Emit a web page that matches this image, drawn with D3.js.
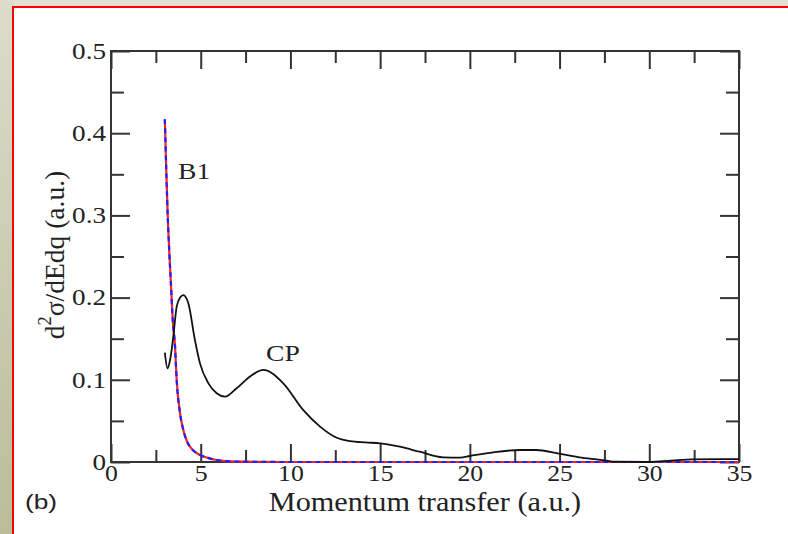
<!DOCTYPE html>
<html><head><meta charset="utf-8">
<script src="https://cdn.jsdelivr.net/npm/d3@7"></script>
<style>
html,body{margin:0;padding:0;background:#fff;}
svg{display:block;}
</style></head>
<body>
<svg id="chart" width="788" height="534"></svg>
<script>
// ---------------- data ----------------
const xTicks = [0, 5, 10, 15, 20, 25, 30, 35];
const yTicks = [0, 0.1, 0.2, 0.3, 0.4, 0.5];
const yTickLabels = ["0", "0.1", "0.2", "0.3", "0.4", "0.5"];

const cpQ = [3.0, 3.15, 3.3, 3.47, 3.66, 3.85, 4.03, 4.31, 4.68, 4.96, 5.43, 5.89, 6.35, 7.0, 7.75, 8.49, 9.6, 10.72, 11.65, 12.58, 13.32, 14.2, 15.0, 16.1, 17.2, 18.5, 19.45, 20.0, 21.3, 22.8, 23.7, 24.9, 26.1, 27.4, 28.0, 30.0, 31.2, 32.4, 34.0, 35.0];
const cpV = [0.133, 0.114, 0.125, 0.152, 0.189, 0.200, 0.203, 0.193, 0.148, 0.120, 0.0957, 0.0836, 0.0795, 0.0897, 0.104, 0.112, 0.0957, 0.063, 0.043, 0.0295, 0.0255, 0.0238, 0.0227, 0.0186, 0.0125, 0.0057, 0.0053, 0.0073, 0.0118, 0.0146, 0.0146, 0.0106, 0.0057, 0.0024, 0.0004, 0.0, 0.0016, 0.0033, 0.0036, 0.0036];

const b1Q = [3.0, 3.08, 3.16, 3.25, 3.33, 3.44, 3.57, 3.66, 3.85, 4.03, 4.2, 4.4, 4.7, 4.96, 5.4, 5.89, 6.5, 7.36, 10, 15, 20, 25, 30, 35];
const b1V = [0.417, 0.355, 0.30, 0.255, 0.221, 0.173, 0.140, 0.100, 0.059, 0.039, 0.027, 0.0186, 0.012, 0.0085, 0.005, 0.0024, 0.001, 0.0004, 0, 0, 0, 0, 0, 0];

const cpLabel = "CP", b1Label = "B1";
const xTitle = "Momentum transfer (a.u.)";
const panelLabel = "(b)";

// ---------------- layout ----------------
const svg = d3.select("#chart");
const W = 788, H = 534;
const L = 111, R = 739, T = 51, B = 462;
const serif = "'Liberation Serif', 'Times New Roman', serif";
const ink = "#222";

// background outside frame
const defs = svg.append("defs");
const g1 = defs.append("linearGradient").attr("id", "bgL").attr("x1", 0).attr("y1", 0).attr("x2", 0).attr("y2", 1);
g1.append("stop").attr("offset", "0%").attr("stop-color", "#dcdccb");
g1.append("stop").attr("offset", "100%").attr("stop-color", "#b9bd98");
svg.append("rect").attr("x", 0).attr("y", 0).attr("width", W).attr("height", H).attr("fill", "#e1e1d3");
svg.append("rect").attr("x", 0).attr("y", 0).attr("width", 14).attr("height", H).attr("fill", "url(#bgL)");
svg.append("rect").attr("x", 13).attr("y", 7).attr("width", W + 10).attr("height", H + 10)
  .attr("fill", "#fff").attr("stroke", "#ff0000").attr("stroke-width", 2);

const x = d3.scaleLinear().domain([0, 35]).range([L, R]);
const y = d3.scaleLinear().domain([0, 0.5]).range([B, T]);

function stretch(sel, f) {
  sel.each(function () {
    const n = this.getComputedTextLength();
    d3.select(this).attr("textLength", n * f).attr("lengthAdjust", "spacingAndGlyphs");
  });
}

const xMinor = d3.range(2.5, 35, 5);
const yMinor = d3.range(0.05, 0.5, 0.1);

function styleAxis(g) {
  g.select(".domain").remove();
  g.selectAll(".tick line").attr("stroke", "#333").attr("stroke-width", 2);
}

// bottom major with labels
const gxb = svg.append("g").attr("transform", `translate(0,${B})`)
  .call(d3.axisBottom(x).tickValues(xTicks).tickSize(-18).tickPadding(5).tickFormat(d3.format("d")));
styleAxis(gxb);
gxb.selectAll(".tick text").attr("font-family", serif).attr("font-size", 23).attr("fill", ink)
  .attr("dy", "0.62em");
stretch(gxb.selectAll(".tick text"), 1.12);
// bottom minor
styleAxis(svg.append("g").attr("transform", `translate(0,${B})`)
  .call(d3.axisBottom(x).tickValues(xMinor).tickSize(-12).tickFormat("")));
// top
styleAxis(svg.append("g").attr("transform", `translate(0,${T})`)
  .call(d3.axisTop(x).tickValues(xTicks).tickSize(-18).tickFormat("")));
styleAxis(svg.append("g").attr("transform", `translate(0,${T})`)
  .call(d3.axisTop(x).tickValues(xMinor).tickSize(-12).tickFormat("")));
// left
const gyl = svg.append("g").attr("transform", `translate(${L},0)`)
  .call(d3.axisLeft(y).tickValues(yTicks).tickSize(-19).tickPadding(5).tickFormat((d, i) => yTickLabels[i]));
styleAxis(gyl);
gyl.selectAll(".tick text").attr("font-family", serif).attr("font-size", 23).attr("fill", ink);
stretch(gyl.selectAll(".tick text"), 1.18);
styleAxis(svg.append("g").attr("transform", `translate(${L},0)`)
  .call(d3.axisLeft(y).tickValues(yMinor).tickSize(-13).tickFormat("")));
// right
styleAxis(svg.append("g").attr("transform", `translate(${R},0)`)
  .call(d3.axisRight(y).tickValues(yTicks).tickSize(-19).tickFormat("")));
styleAxis(svg.append("g").attr("transform", `translate(${R},0)`)
  .call(d3.axisRight(y).tickValues(yMinor).tickSize(-13).tickFormat("")));

// frame
svg.append("rect").attr("x", L).attr("y", T).attr("width", R - L).attr("height", B - T)
  .attr("fill", "none").attr("stroke", "#333").attr("stroke-width", 2);

// curves
const line = d3.line().x(d => x(d[0])).y(d => y(d[1])).curve(d3.curveMonotoneX);
const b1 = b1Q.map((q, i) => [q, b1V[i]]);
const cp = cpQ.map((q, i) => [q, cpV[i]]);
svg.append("path").datum(b1).attr("d", line).attr("fill", "none").attr("stroke", "#ff2020").attr("stroke-width", 2.2);
svg.append("path").datum(b1).attr("d", line).attr("fill", "none").attr("stroke", "#2020ff").attr("stroke-width", 2.2)
  .attr("stroke-dasharray", "5,4");
svg.append("path").datum(cp).attr("d", line).attr("fill", "none").attr("stroke", "#111").attr("stroke-width", 1.8);

// curve labels
const tB1 = svg.append("text").attr("x", 178).attr("y", 179).attr("font-family", serif).attr("font-size", 24)
  .attr("fill", ink).text(b1Label);
stretch(tB1, 1.15);
const tCP = svg.append("text").attr("x", 266).attr("y", 361).attr("font-family", serif).attr("font-size", 23)
  .attr("fill", ink).text(cpLabel);
stretch(tCP, 1.2);

// axis titles
const tx = svg.append("text").attr("x", (L + R) / 2).attr("y", 511).attr("text-anchor", "middle")
  .attr("font-family", serif).attr("font-size", 27).attr("fill", ink).text(xTitle);
stretch(tx, 1.12);

const ty = svg.append("text").attr("transform", "translate(64,255) rotate(-90)").attr("text-anchor", "middle")
  .attr("font-family", serif).attr("font-size", 27).attr("fill", ink);
ty.append("tspan").text("d");
ty.append("tspan").attr("font-size", 18).attr("dy", -13).text("2");
ty.append("tspan").attr("dy", 13).text("σ/dEdq (a.u.)");
stretch(ty, 1.02);

// panel label
const tb = svg.append("text").attr("x", 25).attr("y", 509).attr("font-family", "'Liberation Sans', Arial, sans-serif")
  .attr("font-size", 21).attr("fill", ink).text(panelLabel);
stretch(tb, 1.25);
</script>
</body></html>
